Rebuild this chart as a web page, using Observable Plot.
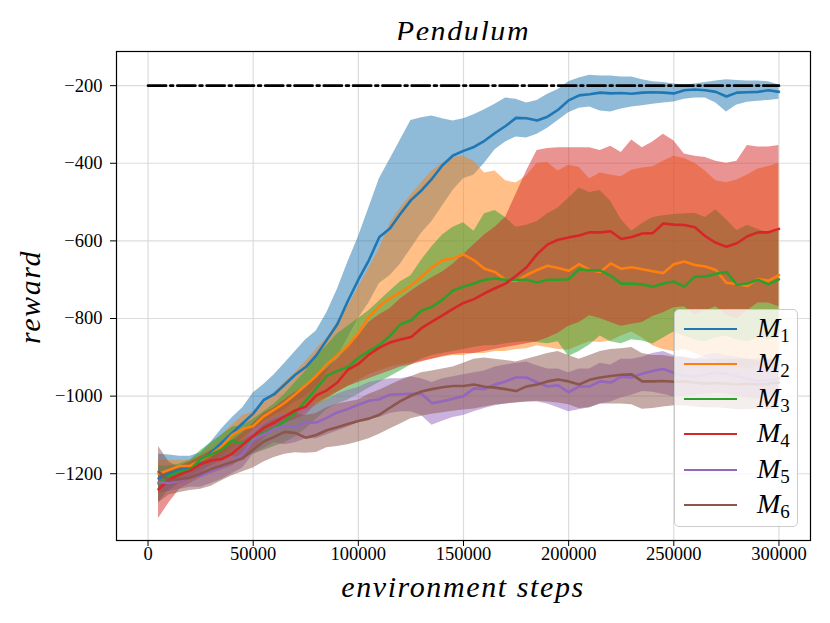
<!DOCTYPE html>
<html><head><meta charset="utf-8">
<script src="https://cdn.jsdelivr.net/npm/d3@7"></script>
<script src="https://cdn.jsdelivr.net/npm/@observablehq/plot@0.6"></script>
<style>
body{margin:0;background:#fff;}
#wrap{position:relative;width:830px;height:623px;font-family:"Liberation Serif","DejaVu Serif",serif;color:#000;}
#chart{position:absolute;left:0;top:40px;}
#title{position:absolute;top:10px;left:116px;width:694px;text-align:center;font-style:italic;font-size:30px;letter-spacing:1.6px;line-height:42px;}
.lab{position:absolute;font-style:italic;font-size:30px;letter-spacing:1.6px;white-space:nowrap;line-height:34px;}
#xlab{left:116px;width:694px;text-align:center;top:570px;}
#ylab{left:30px;top:297px;transform:translate(-50%,-50%) rotate(-90deg);}
#legend{position:absolute;left:674px;top:309px;width:122px;height:216px;border:1px solid #cccccc;border-radius:5px;background:rgba(255,255,255,0.8);}
.ln{position:absolute;left:9px;width:53px;height:2.6px;}
.lt{position:absolute;left:82px;font-size:28px;font-style:italic;line-height:28px;}
.lt sub{font-style:normal;font-size:19px;vertical-align:-5px;}
svg text{fill:#000;}
</style></head><body>
<div id="wrap">
<div id="title">Pendulum</div>
<div id="chart"></div>
<div class="lab" id="xlab">environment steps</div>
<div class="lab" id="ylab">reward</div>
<div id="legend"></div>
</div>
<script>
const steps = d3.range(5000, 300001, 5000);
const xTicks = [0, 50000, 100000, 150000, 200000, 250000, 300000];
const yTicks = [-1200, -1000, -800, -600, -400, -200];
const names = ["M1","M2","M3","M4","M5","M6"];
const colors = ["#1f77b4","#ff7f0e","#2ca02c","#d62728","#9467bd","#8c564b"];
const targetSteps = [0, 300000];
const targetReward = [-200, -200];

const m1Mean = [-1212,-1200,-1190,-1185,-1168,-1145,-1120,-1095,-1070,-1045,-1010,-995,-970,-945,-925,-895,-855,-815,-755,-700,-650,-590,-568,-530,-495,-470,-440,-405,-380,-368,
 -358,-342,-322,-304,-283,-284,-290,-280,-262,-238,-225,-222,-218,-220,-219,-221,-218,-217,-218,-220,-212,-210,-212,-216,-228,-218,-217,-216,-212,-216];
const m1Hi = [-1150,-1152,-1155,-1155,-1146,-1118,-1085,-1056,-1030,-992,-970,-945,-915,-885,-855,-832,-785,-725,-655,-590,-515,-440,-390,-340,-290,-283,-278,-285,-291,-285,
 -275,-262,-248,-232,-235,-245,-238,-222,-210,-190,-180,-173,-175,-175,-178,-178,-185,-190,-192,-196,-198,-196,-192,-188,-185,-187,-188,-188,-190,-198];
const m1Lo = [-1250,-1245,-1225,-1215,-1200,-1175,-1155,-1130,-1110,-1090,-1065,-1050,-1035,-1015,-1000,-975,-940,-900,-850,-800,-760,-710,-690,-660,-620,-580,-550,-510,-470,-440,
 -430,-400,-365,-345,-332,-335,-325,-310,-290,-270,-258,-255,-265,-268,-260,-255,-252,-248,-245,-242,-235,-232,-232,-245,-268,-250,-243,-240,-238,-235];

const m2Mean = [-1200,-1190,-1180,-1180,-1165,-1150,-1130,-1100,-1085,-1077,-1052,-1035,-1017,-995,-972,-948,-918,-895,-870,-838,-795,-768,-748,-733,-715,-693,-668,-650,-645,-635,
 -650,-672,-680,-700,-703,-688,-675,-664,-670,-677,-660,-675,-680,-658,-672,-668,-673,-678,-683,-660,-653,-662,-666,-675,-708,-711,-716,-698,-703,-688];
const m2Hi = [-1165,-1165,-1165,-1165,-1150,-1125,-1100,-1075,-1050,-1040,-1015,-990,-965,-940,-910,-880,-850,-810,-770,-720,-670,-620,-555,-515,-482,-450,-420,-400,-385,-382,
 -395,-425,-420,-445,-451,-432,-400,-398,-420,-405,-410,-440,-425,-430,-435,-418,-412,-409,-395,-382,-388,-400,-420,-445,-450,-443,-430,-415,-408,-400];
const m2Lo = [-1240,-1225,-1210,-1200,-1190,-1180,-1160,-1140,-1120,-1115,-1100,-1085,-1070,-1060,-1040,-1025,-1010,-990,-975,-960,-945,-935,-925,-920,-915,-910,-905,-900,-895,-895,
 -890,-890,-885,-885,-880,-878,-870,-875,-880,-882,-870,-860,-862,-858,-845,-835,-850,-870,-880,-885,-880,-890,-900,-910,-920,-925,-930,-925,-930,-925];

const m3Mean = [-1225,-1205,-1195,-1189,-1162,-1150,-1137,-1115,-1122,-1112,-1095,-1083,-1065,-1042,-1012,-980,-948,-935,-925,-902,-884,-868,-845,-815,-805,-780,-770,-752,-728,-718,
 -710,-700,-697,-700,-700,-700,-707,-700,-700,-699,-673,-676,-676,-690,-710,-710,-712,-718,-710,-705,-718,-692,-692,-685,-680,-713,-710,-700,-712,-699];
const m3Hi = [-1180,-1180,-1175,-1165,-1140,-1120,-1100,-1080,-1075,-1060,-1040,-1020,-995,-965,-935,-900,-870,-840,-820,-800,-780,-755,-730,-705,-690,-650,-615,-585,-565,-553,
 -575,-530,-522,-540,-565,-560,-550,-530,-515,-490,-464,-475,-470,-498,-545,-575,-555,-540,-535,-532,-530,-529,-540,-520,-545,-573,-560,-570,-580,-575];
const m3Lo = [-1275,-1240,-1220,-1210,-1190,-1180,-1170,-1155,-1160,-1150,-1140,-1130,-1120,-1105,-1085,-1060,-1035,-1020,-1010,-995,-980,-965,-950,-935,-920,-905,-895,-890,-885,-880,
 -875,-870,-870,-865,-862,-860,-862,-865,-860,-898,-885,-868,-845,-860,-865,-855,-858,-866,-850,-835,-845,-855,-860,-850,-845,-855,-860,-850,-855,-850];

const m4Mean = [-1240,-1215,-1202,-1192,-1175,-1166,-1162,-1148,-1125,-1103,-1082,-1068,-1052,-1037,-1027,-998,-985,-965,-932,-917,-893,-875,-862,-854,-848,-825,-808,-792,-775,-760,
 -750,-735,-722,-710,-690,-668,-634,-609,-597,-591,-586,-578,-578,-575,-595,-590,-581,-580,-555,-558,-559,-565,-588,-605,-615,-606,-588,-578,-578,-569];
const m4Hi = [-1200,-1190,-1180,-1170,-1155,-1140,-1130,-1115,-1095,-1070,-1045,-1030,-1010,-990,-975,-950,-930,-905,-875,-845,-810,-790,-775,-750,-730,-712,-695,-680,-660,-635,
 -610,-585,-565,-540,-480,-420,-367,-362,-360,-360,-360,-360,-367,-356,-372,-340,-360,-345,-325,-342,-376,-382,-385,-395,-400,-395,-354,-358,-358,-354];
const m4Lo = [-1315,-1275,-1240,-1225,-1210,-1200,-1190,-1180,-1160,-1140,-1110,-1085,-1070,-1060,-1050,-1020,-1005,-990,-975,-965,-955,-945,-935,-925,-920,-912,-905,-898,-893,-890,
 -890,-885,-880,-875,-870,-865,-860,-850,-838,-820,-810,-793,-800,-810,-820,-815,-810,-795,-785,-772,-770,-790,-780,-770,-790,-800,-780,-760,-760,-770];

const m5Mean = [-1222,-1224,-1218,-1209,-1205,-1194,-1183,-1170,-1150,-1112,-1099,-1085,-1077,-1080,-1069,-1068,-1056,-1042,-1033,-1022,-1012,-1008,-996,-995,-994,-994,-1018,-1013,-1007,-1000,
 -980,-982,-970,-962,-952,-952,-965,-975,-972,-990,-975,-975,-962,-965,-950,-952,-942,-935,-930,-940,-948,-950,-945,-940,-942,-948,-955,-960,-958,-955];
const m5Hi = [-1200,-1205,-1200,-1190,-1180,-1170,-1155,-1140,-1115,-1085,-1070,-1055,-1045,-1045,-1030,-1020,-1010,-995,-985,-978,-965,-960,-955,-955,-950,-955,-965,-955,-950,-945,
 -940,-935,-925,-920,-915,-912,-922,-930,-930,-940,-930,-930,-915,-920,-905,-905,-900,-890,-885,-895,-900,-905,-895,-890,-895,-900,-905,-910,-908,-905];
const m5Lo = [-1245,-1245,-1240,-1235,-1235,-1225,-1215,-1200,-1185,-1150,-1135,-1120,-1125,-1120,-1110,-1110,-1100,-1090,-1080,-1068,-1060,-1055,-1045,-1040,-1040,-1050,-1075,-1065,-1055,-1050,
 -1040,-1032,-1025,-1020,-1017,-1015,-1015,-1020,-1030,-1040,-1035,-1030,-1020,-1015,-1005,-998,-988,-990,-995,-1002,-1000,-998,-995,-992,-995,-1000,-1005,-1008,-1005,-1002];

const m6Mean = [-1195,-1218,-1214,-1210,-1200,-1188,-1179,-1170,-1160,-1138,-1117,-1105,-1092,-1095,-1107,-1100,-1088,-1080,-1072,-1064,-1058,-1048,-1030,-1013,-999,-988,-982,-977,-974,-974,
 -970,-976,-978,-982,-987,-975,-970,-962,-957,-962,-970,-958,-952,-948,-945,-944,-962,-962,-961,-963,-962,-965,-968,-966,-968,-970,-968,-970,-968,-965];
const m6Hi = [-1130,-1170,-1185,-1185,-1175,-1160,-1140,-1125,-1115,-1100,-1075,-1060,-1050,-1045,-1050,-1045,-1030,-1020,-1015,-1010,-995,-985,-972,-960,-950,-940,-935,-930,-925,-915,
 -905,-902,-905,-908,-912,-905,-898,-890,-885,-895,-905,-895,-885,-880,-878,-875,-890,-895,-895,-900,-900,-905,-905,-905,-905,-905,-905,-905,-905,-905];
const m6Lo = [-1275,-1255,-1248,-1243,-1240,-1232,-1218,-1205,-1195,-1185,-1170,-1158,-1150,-1146,-1147,-1145,-1133,-1130,-1125,-1118,-1110,-1098,-1085,-1072,-1058,-1052,-1047,-1043,-1039,-1036,
 -1033,-1028,-1023,-1020,-1018,-1015,-1013,-1015,-1018,-1022,-1032,-1030,-1020,-1020,-1020,-1022,-1034,-1032,-1028,-1025,-1025,-1028,-1030,-1030,-1032,-1035,-1035,-1033,-1035,-1035];

const series = [
  {mean: m1Mean, lo: m1Lo, hi: m1Hi},
  {mean: m2Mean, lo: m2Lo, hi: m2Hi},
  {mean: m3Mean, lo: m3Lo, hi: m3Hi},
  {mean: m4Mean, lo: m4Lo, hi: m4Hi},
  {mean: m5Mean, lo: m5Lo, hi: m5Hi},
  {mean: m6Mean, lo: m6Lo, hi: m6Hi}
];
const tables = series.map((s, k) => steps.map((x, i) => ({x, mean: s.mean[i], lo: s.lo[i], hi: s.hi[i], name: names[k]})));
const target = targetSteps.map((x, i) => ({x, y: targetReward[i]}));

const areas = tables.map((t, k) => Plot.areaY(t, {x: "x", y1: "lo", y2: "hi", fill: colors[k], fillOpacity: 0.5}));
const lines = tables.map((t, k) => Plot.lineY(t, {x: "x", y: "mean", stroke: colors[k], strokeWidth: 2.6}));

const chart = Plot.plot({
  width: 830, height: 583,
  marginTop: 11, marginBottom: 83, marginLeft: 116, marginRight: 20,
  x: {type: "linear", domain: [-15000, 315000]},
  y: {type: "linear", domain: [-1372, -112]},
  style: {fontFamily: "'Liberation Serif', serif", fontSize: "18.5px", color: "#000", background: "#fff"},
  marks: [
    Plot.gridX(xTicks, {stroke: "#dcdcdc", strokeOpacity: 1, strokeWidth: 1.2}),
    Plot.gridY(yTicks, {stroke: "#dcdcdc", strokeOpacity: 1, strokeWidth: 1.2}),
    ...areas,
    ...lines,
    Plot.lineY(target, {x: "x", y: "y", stroke: "#000", strokeWidth: 2.7, strokeDasharray: "18,4.3,2.7,4.3"}),
    Plot.frame({stroke: "#000", strokeWidth: 1.2}),
    Plot.axisX(xTicks, {tickSize: 6, tickPadding: 0, tickFormat: d => String(d), label: null, fontSize: 18.5}),
    Plot.axisY(yTicks, {tickSize: 6, tickPadding: 8, label: null, fontSize: 18.5, tickFormat: d => (d < 0 ? "\u2212" : "") + Math.abs(d)})
  ]
});
document.getElementById("chart").appendChild(chart);

const legend = document.getElementById("legend");
const entryY = [19, 54, 89, 124, 160, 195];
names.forEach((n, k) => {
  const ln = document.createElement("div");
  ln.className = "ln";
  ln.style.top = (entryY[k] - 1.3) + "px";
  ln.style.background = colors[k];
  legend.appendChild(ln);
  const lt = document.createElement("div");
  lt.className = "lt";
  lt.style.top = (entryY[k] - 15) + "px";
  lt.innerHTML = n[0] + "<sub>" + n.slice(1) + "</sub>";
  legend.appendChild(lt);
});
</script>
</body></html>
